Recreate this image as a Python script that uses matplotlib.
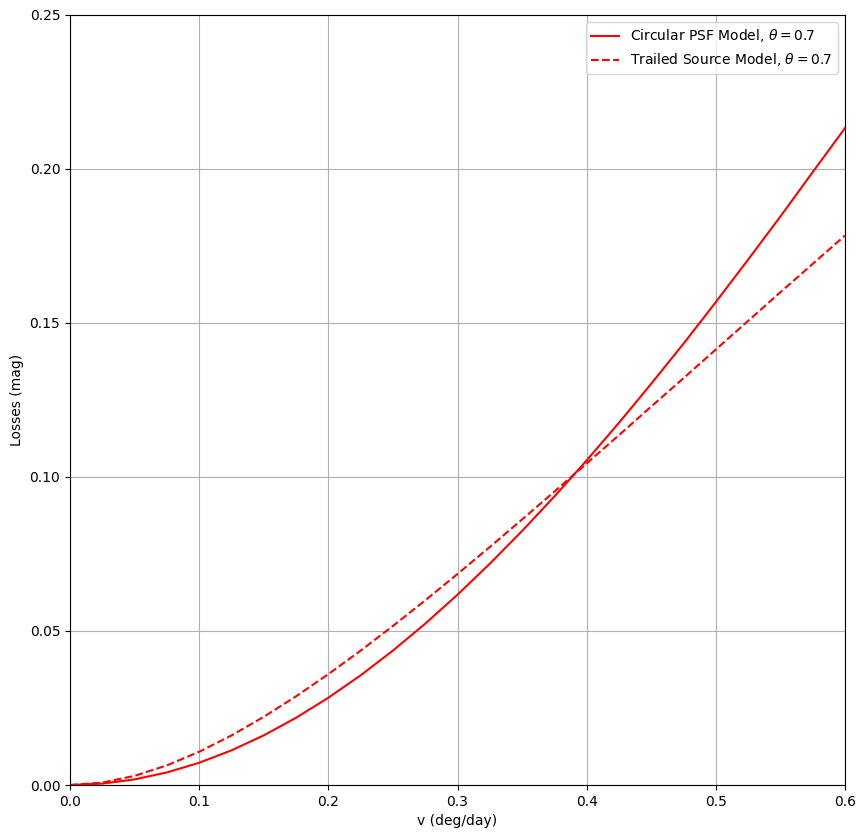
import numpy as np
import matplotlib
matplotlib.use("Agg")
import matplotlib.pyplot as plt

# Velocity grid (deg/day) and losses (mag)
velocity = [0.0, 0.025, 0.05, 0.075, 0.1, 0.125, 0.15, 0.175, 0.2, 0.225, 0.25,
            0.275, 0.3, 0.325, 0.35, 0.375, 0.4, 0.425, 0.45, 0.475, 0.5,
            0.525, 0.55, 0.575, 0.6]
circular_loss = [0.0, 0.00045, 0.00182, 0.00408, 0.00722, 0.01125, 0.01612,
                 0.02183, 0.02833, 0.03561, 0.04364, 0.05238, 0.06179, 0.07184,
                 0.08249, 0.09368, 0.1054, 0.1176, 0.1303, 0.1433, 0.1568,
                 0.1706, 0.1846, 0.1990, 0.2133]
trailed_loss = [0.0, 0.00078, 0.00297, 0.00637, 0.01079, 0.01609, 0.02214,
                0.02880, 0.03599, 0.04363, 0.05164, 0.05995, 0.06852, 0.07728,
                0.08621, 0.09526, 0.1044, 0.1136, 0.1229, 0.1321, 0.1414,
                0.1507, 0.1600, 0.1692, 0.1784]

fig = plt.figure(figsize=(8.66, 8.38), dpi=100)
ax = fig.add_axes([70 / 866, 1 - 785 / 838, 775 / 866, 770 / 838])

ax.plot(velocity, circular_loss, color='red', linestyle='-',
        label=r'Circular PSF Model, $\theta = 0.7$')
ax.plot(velocity, trailed_loss, color='red', linestyle='--',
        label=r'Trailed Source Model, $\theta = 0.7$')

ax.set_xlim(0, 0.6)
ax.set_ylim(0, 0.25)
ax.set_xlabel("v (deg/day)")
ax.set_ylabel("Losses (mag)")
ax.grid(True)
ax.legend(loc='upper right')

fig.savefig("out.png", dpi=100)
